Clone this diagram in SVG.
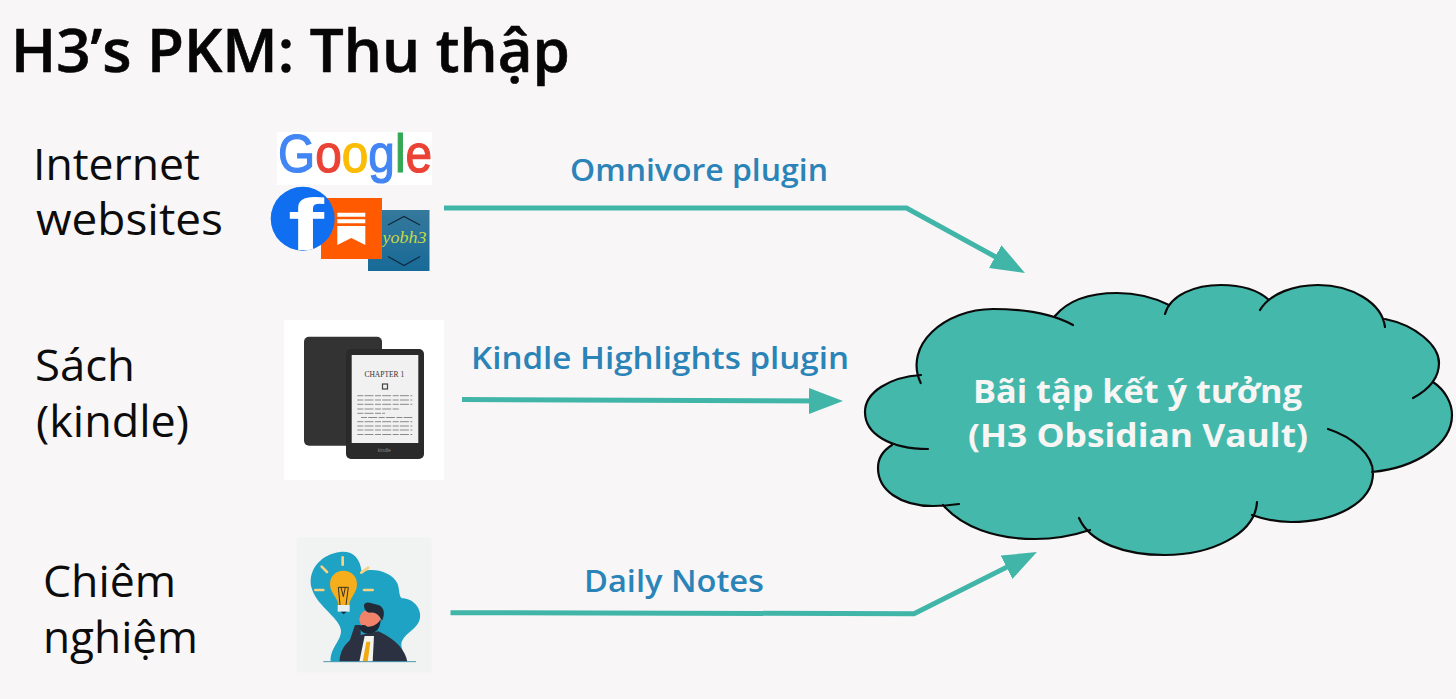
<svg xmlns="http://www.w3.org/2000/svg" width="1456" height="699" viewBox="0 0 1456 699">
<style>
.t{font-family:"Open Sans","Noto Sans",sans-serif}
.lbl{font-size:44px;fill:#0c0c0c;font-weight:400}
.blue{font-size:31px;fill:#2a84b8;font-weight:600}
.cl{font-size:33px;fill:#f8f6f4;font-weight:700}
.conn{fill:none;stroke:#41b5a8;stroke-width:5}
.edge{fill:none;stroke:#0a0a0a;stroke-width:2.2;stroke-linecap:round}
.page{fill:none;stroke:#8a8a8a;stroke-width:1;stroke-dasharray:6 1.2 9 1.5}
</style>
<defs>
<marker id="ah" markerUnits="userSpaceOnUse" markerWidth="36" markerHeight="28" viewBox="0 0 36 28" refX="24" refY="14" orient="auto"><path d="M0,1 L34,14 L0,27 Z" fill="#41b5a8"/></marker>
<clipPath id="fbc"><circle cx="302.7" cy="218.7" r="32"/></clipPath>
<linearGradient id="blog" x1="0" y1="0" x2="0" y2="1"><stop offset="0" stop-color="#36799c"/><stop offset="1" stop-color="#176a97"/></linearGradient>
</defs>
<rect width="1456" height="699" fill="#f9f6f7"/>
<text id="title" class="t" x="11" y="72" font-size="60" font-weight="600" fill="#060606" stroke="#060606" stroke-width=".6" textLength="559" lengthAdjust="spacingAndGlyphs">H3’s PKM: Thu thập</text>

<g id="internet-label"><text class="t lbl" x="33" y="180" textLength="167" lengthAdjust="spacingAndGlyphs">Internet</text><text class="t lbl" x="36" y="235" textLength="187" lengthAdjust="spacingAndGlyphs">websites</text></g>
<g id="sach-label"><text class="t lbl" x="35" y="381" textLength="100" lengthAdjust="spacingAndGlyphs">Sách</text><text class="t lbl" x="36" y="437" textLength="153" lengthAdjust="spacingAndGlyphs">(kindle)</text></g>
<g id="chiem-label"><text class="t lbl" x="43" y="597" textLength="133" lengthAdjust="spacingAndGlyphs">Chiêm</text><text class="t lbl" x="43" y="653" textLength="155" lengthAdjust="spacingAndGlyphs">nghiệm</text></g>

<g id="web-icons">
<rect x="277" y="132" width="155" height="53" fill="#fff"/>
<text transform="translate(278,172) scale(.885,1)" font-family="'Liberation Sans',sans-serif" font-size="54" stroke-width="1.200"><tspan fill="#4285f4" stroke="#4285f4">G</tspan><tspan fill="#ea4335" stroke="#ea4335">o</tspan><tspan fill="#fbbc05" stroke="#fbbc05">o</tspan><tspan fill="#4285f4" stroke="#4285f4">g</tspan><tspan fill="#34a853" stroke="#34a853">l</tspan><tspan fill="#ea4335" stroke="#ea4335">e</tspan></text>
<rect x="368" y="210" width="61.500" height="61" fill="url(#blog)"/>
<path d="M388,225 L404,216.500 L420,225 M388,256.500 L404,265.500 L420,256.500" fill="none" stroke="#10283c" stroke-width="1.200"/>
<text x="382.500" y="243" font-family="'Liberation Serif',serif" font-style="italic" font-size="17" fill="#c6d844" textLength="44" lengthAdjust="spacingAndGlyphs">yobh3</text>
<rect x="321" y="198" width="61" height="61" fill="#ff5a00"/>
<path d="M337.300,212.700 H365.300 V216.700 H337.300 Z M337.300,219.300 H365.300 V223.300 H337.300 Z M337.300,226 H365.300 V245 L351.300,238 L337.300,245 Z" fill="#fff"/>
<circle cx="302.700" cy="218.700" r="32" fill="#0f6ff0"/>
<text x="288" y="250" clip-path="url(#fbc)" font-family="'Liberation Sans',sans-serif" font-weight="700" font-size="72" fill="#fff" textLength="36" lengthAdjust="spacingAndGlyphs">f</text>
</g>

<g id="kindle-image">
<rect x="284" y="320" width="160" height="160" fill="#fff"/>
<rect x="304" y="336.700" width="78" height="109" rx="5" fill="#333"/>
<rect x="346" y="349" width="78" height="110" rx="5" fill="#2a2a2a"/>
<rect x="351.700" y="355" width="66.600" height="88" fill="#f1f1f1"/>
<text x="384.300" y="377" text-anchor="middle" font-family="'Liberation Serif',serif" font-size="7.500" fill="#333">CHAPTER 1</text>
<rect x="382.500" y="384" width="5" height="5" fill="none" stroke="#444" stroke-width="1.200"/>
<path class="page" d="M357.300,395.700 H412.300 M357.300,400 H412.300 M357.300,404.300 H412.300 M357.300,409 H400 M357.300,413.300 H385 M361,417.500 H412.300 M357.300,421.700 H412.300 M357.300,426 H412.300 M357.300,430 H412.300 M357.300,434.500 H412.300"/>
<text x="384.300" y="452" text-anchor="middle" font-family="'Liberation Sans',sans-serif" font-size="5" fill="#8a8a8a">kindle</text>
</g>

<g id="idea-image" transform="translate(290,530) scale(.33333)">
<rect x="20" y="22" width="405" height="405" fill="#f1f3f3"/>
<path d="M122,395 C118,350 165,325 150,290 C135,255 80,225 65,175 C50,120 95,72 150,66 C190,62 210,85 215,125 C250,112 305,125 322,160 C330,180 325,195 335,205 C370,205 395,235 390,265 C385,295 350,305 335,335 C330,355 345,375 350,395 Z" fill="#1fa3c4"/>
<path d="M95,110 L111,126 M158,82 V104 M214,128 L235,113 M76,180 H100 M222,180 H248" stroke="#f8d27e" stroke-width="8" stroke-linecap="round" fill="none"/>
<path d="M145,225 C143,200 120,190 120,162 C120,138 138,122 160,122 C182,122 201,138 201,162 C201,190 180,200 178,225 Z" fill="#f6ae1c"/>
<path d="M150,225 L145,172 H175 L168,225 M153,172 L160,200 L166,172" fill="none" stroke="#3a3024" stroke-width="3"/>
<rect x="143" y="225" width="36" height="20" fill="#e9eef0"/>
<path d="M152,245 H170 L161,253 Z" fill="#1d2c3c"/>
<path d="M148,395 C150,350 180,322 215,314 L265,304 C320,330 345,360 352,395 Z" fill="#2b3140"/>
<path d="M208,395 L224,318 L252,318 L248,395 Z" fill="#f5f3ee"/>
<path d="M229,335 H241 L233,395 H218 Z" fill="#f0a90e"/>
<path d="M178,335 L195,285 L212,285 L212,318 Z" fill="#2b3140"/>
<ellipse cx="240" cy="268" rx="32" ry="30" fill="#f2836b"/>
<path d="M208,290 C216,282 226,284 232,290 C248,292 264,282 272,268 C272,295 258,313 232,311 C218,310 210,300 208,290 Z" fill="#1e2736"/>
<path d="M222,226 C225,210 245,220 265,225 C285,232 285,255 276,272 C268,258 260,245 240,248 C228,248 222,238 222,226 Z" fill="#232b39"/>
<path d="M100,395 H378" stroke="#4d97ac" stroke-width="3"/>
</g>

<g id="connectors">
<path class="conn" d="M444,208 H906.500 L1016.200,268.200" marker-end="url(#ah)"/>
<path class="conn" d="M462,399.500 L833,401" marker-end="url(#ah)"/>
<path class="conn" d="M450.500,612.700 L914,613.700 L1028,556.500" marker-end="url(#ah)"/>
</g>
<g id="connector-labels">
<text class="t blue" x="570" y="181" textLength="258" lengthAdjust="spacingAndGlyphs">Omnivore plugin</text>
<text class="t blue" x="471" y="369" textLength="378" lengthAdjust="spacingAndGlyphs">Kindle Highlights plugin</text>
<text class="t blue" x="584" y="592" textLength="180" lengthAdjust="spacingAndGlyphs">Daily Notes</text>
</g>

<g id="cloud">
<path fill="#45b8ac" d="M920.700,383 C903,345 945,309 993,309 C1025,309 1053,314 1073,325 L1055,316 C1070,298 1095,293 1117,293 C1138,293 1155,298 1169,305 L1165,314 C1170,295 1195,285 1221,285 C1240,285 1258,290 1269,300 L1260,310 C1270,293 1295,285 1318,285 C1352,285 1382,303 1385,327 L1385,319 C1415,325 1439,345 1439,363 C1439,378 1428,390 1413,398 L1433,382 C1445,390 1452,403 1452,415 C1452,445 1415,468 1372,472 L1328,429 L1373,473 C1373,503 1335,522 1291,522 C1277,522 1263,519 1252,515 L1257,502 C1255,535 1210,555 1165,555 C1125,555 1090,543 1079,518 L1090,530 C1072,536 1055,539 1035,539 C995,539 962,527 943,505 L959,504 C952,505 942,506 933,506 C900,506 878,490 878,468 C878,458 884,450 892,445 L928,449 C890,449 865,434 865,412 C865,392 890,377 921,375 Z"/>
<path class="edge" d="M920.700,383 C903,345 945,309 993,309 C1025,309 1053,314 1073,325 M1055,316 C1070,298 1095,293 1117,293 C1138,293 1155,298 1169,305 M1165,314 C1170,295 1195,285 1221,285 C1240,285 1258,290 1269,300 M1260,310 C1270,293 1295,285 1318,285 C1352,285 1382,303 1385,327 M1385,319 C1415,325 1439,345 1439,363 C1439,378 1428,390 1413,398 M1433,382 C1445,390 1452,403 1452,415 C1452,445 1415,468 1372,472 M1328,429 C1353,437 1373,455 1373,473 C1373,503 1335,522 1291,522 C1277,522 1263,519 1252,515 M1257,502 C1255,535 1210,555 1165,555 C1125,555 1090,543 1079,518 M1090,530 C1072,536 1055,539 1035,539 C995,539 962,527 943,505 M959,504 C952,505 942,506 933,506 C900,506 878,490 878,468 C878,458 884,450 892,445 M928,449 C890,449 865,434 865,412 C865,392 890,377 921,375"/>
<text class="t cl" x="973" y="403" textLength="329" lengthAdjust="spacingAndGlyphs">Bãi tập kết ý tưởng</text>
<text class="t cl" x="968" y="447" textLength="340" lengthAdjust="spacingAndGlyphs">(H3 Obsidian Vault)</text>
</g>
</svg>
